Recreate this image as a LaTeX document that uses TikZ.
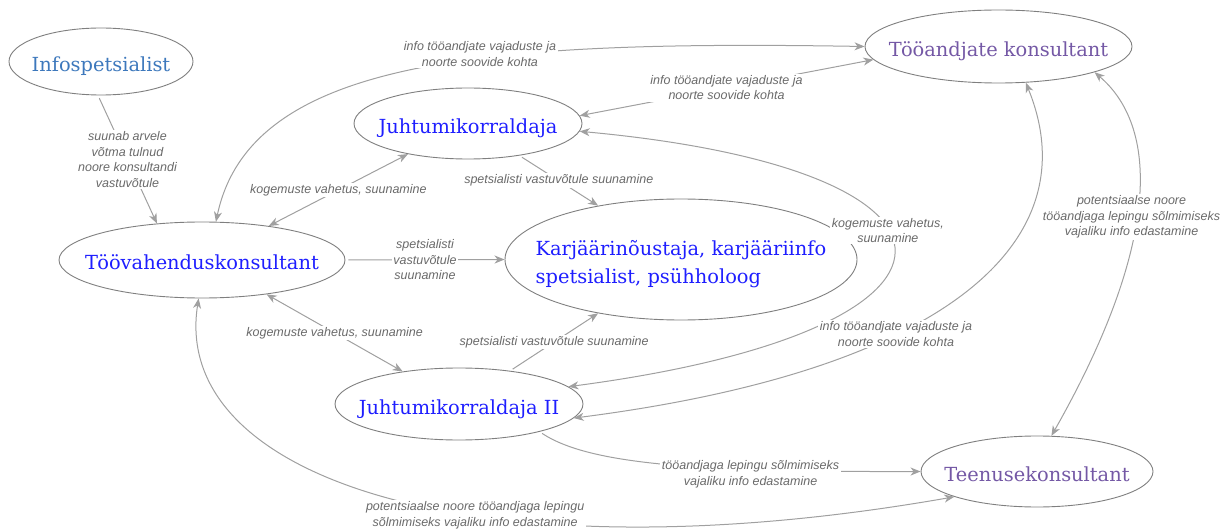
\documentclass[tikz,border=0pt]{standalone}
\usepackage{fontspec}
\setmainfont{DejaVu Serif}
\newfontfamily\lblfont{Liberation Sans}
\usetikzlibrary{shapes.geometric,arrows.meta}
\definecolor{edgec}{HTML}{A0A0A0}
\definecolor{ellc}{HTML}{7F7F7F}
\definecolor{lblc}{HTML}{6A6A6A}
\definecolor{blu}{HTML}{1E1EFF}
\definecolor{infoc}{HTML}{3D78BC}
\definecolor{purp}{HTML}{7458A5}
\begin{document}
\begin{tikzpicture}[x=1pt,y=-1pt,
  ell/.style={ellipse, draw=ellc, line width=0.9pt, inner xsep=-60pt, inner ysep=-30pt,
    font=\fontsize{19.4}{28}\selectfont, text height=20pt, text depth=0pt},
  ell2/.style={ellipse, draw=ellc, line width=0.9pt, inner xsep=-60pt, inner ysep=-40pt,
    font=\fontsize{19.4}{28}\selectfont, align=left},
  lbl/.style={font=\lblfont\itshape\fontsize{12.5}{15.5}\selectfont, text=lblc,
    fill=white, inner sep=1.5pt, align=center},
  conn/.style={draw=edgec, line width=1pt},
  >={Stealth[length=10pt,width=8pt,inset=3pt]}]
\useasboundingbox (0,0) rectangle (1223,529);

\node[ell, text=infoc, minimum width=184pt, minimum height=67pt] (info) at (101,61.5) {Infospetsialist};
\node[ell, text=purp, minimum width=267pt, minimum height=73pt] (tk) at (998.5,46.5) {Tööandjate konsultant};
\node[ell, text=blu, minimum width=228pt, minimum height=71pt] (jk) at (468,123.5) {Juhtumikorraldaja};
\node[ell, text=blu, minimum width=286pt, minimum height=76pt] (tv) at (202,260) {Töövahenduskonsultant};
\node[ell2, text=blu, minimum width=352pt, minimum height=121pt] (kn) at (681,259.5) {\rule{0pt}{25pt}Karjäärinõustaja, karjääriinfo\\spetsialist, psühholoog};
\node[ell, text=blu, minimum width=248pt, minimum height=72pt] (jk2) at (459,404) {Juhtumikorraldaja II};
\node[ell, text=purp, minimum width=232pt, minimum height=71pt] (ts) at (1037,471.5) {Teenusekonsultant};

\draw[conn, ->, shorten <=3pt] (info.-95) -- node[lbl]{suunab arvele\\võtma tulnud\\noore konsultandi\\vastuvõtule} (tv.141);
\draw[conn, <->] (tv.27) -- node[lbl]{kogemuste vahetus, suunamine} (jk.207);
\draw[conn, ->, shorten <=3pt] (tv.east) -- node[lbl]{spetsialisti\\vastuvõtule\\suunamine} (kn.west);
\draw[conn, <->] (tv.-28.5) -- node[lbl]{kogemuste vahetus, suunamine} (jk2.150);
\draw[conn, ->, shorten <=3pt] (jk.-32) -- node[lbl]{spetsialisti vastuvõtule suunamine} (kn.147.5);
\draw[conn, ->, shorten <=3pt] (jk2.33.7) -- node[lbl]{spetsialisti vastuvõtule suunamine} (kn.213.5);
\draw[conn, <->] (jk.4) -- node[lbl]{info tööandjate vajaduste ja\\noorte soovide kohta} (tk.186);
\draw[conn, <->] (tv.70) .. controls (250,60) and (480,40) .. node[lbl, pos=0.6, yshift=5pt]{info tööandjate vajaduste ja\\noorte soovide kohta} (tk.180);
\draw[conn, <->] (jk.-4) .. controls (1000,170) and (1000,330) .. node[lbl, pos=0.43]{kogemuste vahetus,\\suunamine} (jk2.9);
\draw[conn, <->] (tk.-53) .. controls (1090,240) and (950,370) .. node[lbl, pos=0.63]{info tööandjate vajaduste ja\\noorte soovide kohta} (jk2.-7.4);
\draw[conn, <->] (tk.-15) .. controls (1162,130) and (1157,250) .. node[lbl, pos=0.53, xshift=-5pt]{potentsiaalse noore\\tööandjaga lepingu sõlmimiseks\\vajaliku info edastamine} (ts.68);
\draw[conn, ->, shorten <=3pt] (jk2.-19) .. controls (590,465) and (700,472) .. node[lbl, pos=0.7, yshift=-5pt]{tööandjaga lepingu sõlmimiseks\\vajaliku info edastamine} (ts.180);
\draw[conn, <->] (tv.-95) .. controls (170,480) and (480,580) .. node[lbl, pos=0.6]{potentsiaalse noore tööandjaga lepingu\\sõlmimiseks vajaliku info edastamine} (ts.197);
\end{tikzpicture}
\end{document}
